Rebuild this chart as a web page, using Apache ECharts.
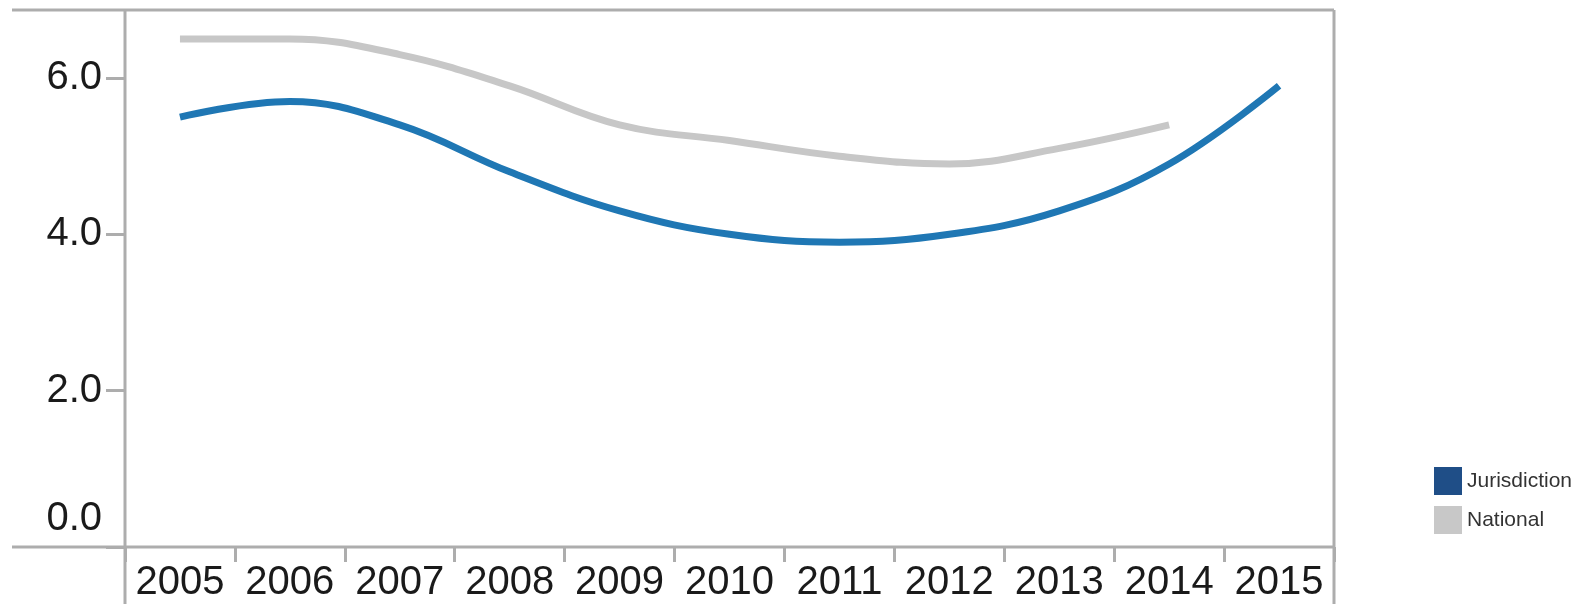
<!DOCTYPE html>
<html>
<head>
<meta charset="utf-8">
<script src="https://cdn.jsdelivr.net/npm/echarts@6.0.0/dist/echarts.min.js"></script>
<style>
  html, body { margin: 0; padding: 0; background: #fff; }
  #chart { width: 1591px; height: 604px; }
</style>
</head>
<body>
<div id="chart"></div>
<script>
// 数据
const years = ['2005', '2006', '2007', '2008', '2009', '2010', '2011', '2012', '2013', '2014', '2015']
const jurisdiction = [5.5, 5.7, 5.4, 4.8, 4.3, 4.0, 3.9, 4.0, 4.3, 4.9, 5.9]
const national = [6.5, 6.5, 6.3, 5.9, 5.4, 5.2, 5.0, 4.9, 5.1, 5.4, null]

const frameColor = '#adadad'
const textColor = '#1a1a1a'
const W = 1591
const H = 604
const gridLeft = 125
const gridRight = 257
const gridTop = 10
const gridBottom = 57

const myChart = echarts.init(document.getElementById('chart'), null, { renderer: 'canvas' })

// 外框线条（Tableau 风格）
const xR = W - gridRight
const yB = H - gridBottom
const frameLine = (x1, y1, x2, y2) => ({
  type: 'line',
  silent: true,
  z: 10,
  shape: { x1: x1, y1: y1, x2: x2, y2: y2 },
  style: { stroke: frameColor, lineWidth: 3 }
})

const option = {
  animation: false,
  backgroundColor: '#fff',
  grid: {
    left: gridLeft,
    right: gridRight,
    top: gridTop,
    bottom: gridBottom,
    containLabel: false
  },
  legend: {
    orient: 'vertical',
    left: 1429,
    top: 462,
    icon: 'rect',
    itemWidth: 28,
    itemHeight: 28,
    itemGap: 11,
    textStyle: { fontFamily: 'Liberation Sans', fontSize: 21, color: '#333' },
    data: [
      { name: 'Jurisdiction', itemStyle: { color: '#1f4e87' } },
      { name: 'National', itemStyle: { color: '#c8c8c8' } }
    ]
  },
  xAxis: {
    type: 'category',
    boundaryGap: true,
    data: years,
    axisLine: { show: false },
    axisTick: {
      show: true,
      interval: 0,
      length: 15,
      lineStyle: { color: frameColor, width: 3 }
    },
    axisLabel: {
      interval: 0,
      margin: 16,
      fontFamily: 'Liberation Sans',
      fontSize: 40,
      color: textColor
    },
    splitLine: { show: false }
  },
  yAxis: {
    type: 'value',
    min: 0,
    max: 6.87,
    interval: 2,
    axisLine: { show: false },
    axisTick: {
      show: true,
      length: 19,
      lineStyle: { color: frameColor, width: 3 }
    },
    axisLabel: {
      margin: 23,
      showMaxLabel: false,
      fontFamily: 'Liberation Sans',
      fontSize: 40,
      color: textColor,
      formatter: function(v) {
        if (v === 0) {
          return '{z|0.0}'
        }
        return v.toFixed(1)
      },
      rich: {
        z: {
          fontFamily: 'Liberation Sans',
          fontSize: 40,
          color: textColor,
          padding: [0, 0, 56, 0]
        }
      }
    },
    splitLine: { show: false }
  },
  graphic: [
    frameLine(12, gridTop, xR, gridTop),
    frameLine(xR, gridTop, xR, H),
    frameLine(gridLeft, gridTop, gridLeft, H),
    frameLine(12, yB, xR, yB)
  ],
  series: [
    {
      name: 'National',
      type: 'line',
      data: national,
      smooth: 0.4,
      symbol: 'none',
      lineStyle: { color: '#c7c7c7', width: 7 },
      itemStyle: { color: '#c7c7c7' }
    },
    {
      name: 'Jurisdiction',
      type: 'line',
      data: jurisdiction,
      smooth: 0.4,
      symbol: 'none',
      lineStyle: { color: '#1f77b4', width: 7 },
      itemStyle: { color: '#1f77b4' }
    }
  ]
}

myChart.setOption(option)
</script>
</body>
</html>
